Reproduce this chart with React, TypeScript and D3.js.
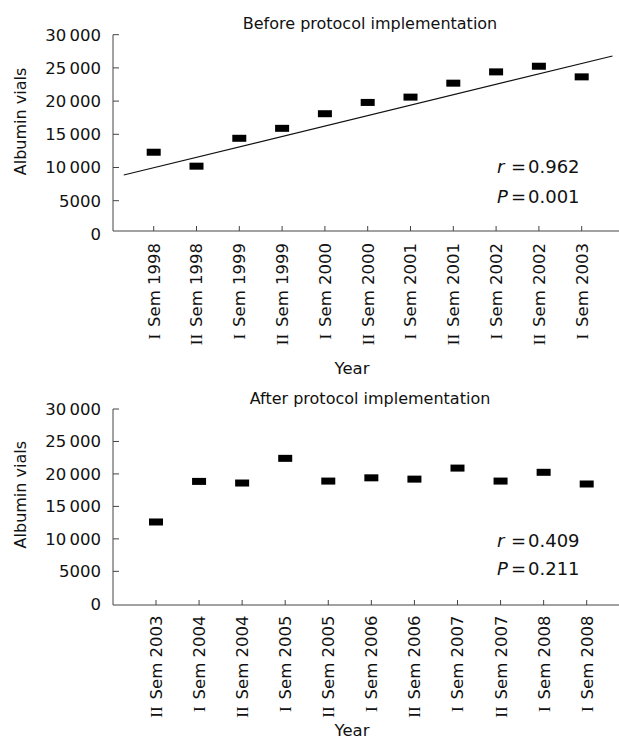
import React from "react";
import * as d3 from "d3";

// Semester labels and albumin vial counts
const beforeLabels = [
  "I Sem 1998", "II Sem 1998", "I Sem 1999", "II Sem 1999", "I Sem 2000", "II Sem 2000",
  "I Sem 2001", "II Sem 2001", "I Sem 2002", "II Sem 2002", "I Sem 2003",
];
const beforeValues = [12300, 10200, 14400, 15900, 18100, 19800, 20600, 22700, 24400, 25250, 23650];

const afterLabels = [
  "II Sem 2003", "I Sem 2004", "II Sem 2004", "I Sem 2005", "II Sem 2005", "I Sem 2006",
  "II Sem 2006", "I Sem 2007", "II Sem 2007", "I Sem 2008", "I Sem 2008",
];
const afterValues = [12600, 18850, 18600, 22400, 18900, 19400, 19200, 20900, 18900, 20250, 18450];

// Fitted trend line (index positions and values at the two ends)
const beforeTrendIndex = [-0.7, 10.72];
const beforeTrendValues = [8870, 26790];

const yTicks = [0, 5000, 10000, 15000, 20000, 25000, 30000];

const beforeStats = ["0.962", "0.001"];
const afterStats = ["0.409", "0.211"];

const SANS = "'DejaVu Sans', Verdana, sans-serif";
const SERIF = "'Liberation Serif', 'DejaVu Serif', serif";
const AXIS = "#444";
const INK = "#111";

const fmtTick = (v: number) => {
  const s = String(v);
  return s.length > 4 ? s.slice(0, -3) + "\u2009" + s.slice(-3) : s;
};

type PanelProps = {
  title: string;
  labels: string[];
  values: number[];
  stats: string[];
  trendIndex?: number[];
  trendValues?: number[];
  top: number; // y pixel of 30000
  zero: number; // y pixel of 0
  axisY: number;
  xFirst: number;
  xLast: number;
  titleY: number;
  labelsTop: number;
  yearY: number;
  statY: number[];
  yLabelY: number;
};

function Stat({ sym, value, y }: { sym: string; value: string; y: number }) {
  return (
    <text y={y} fontFamily={SANS} fontSize={18} fill={INK}>
      <tspan x={497} fontStyle="italic">
        {sym}
      </tspan>
      <tspan x={511}>=</tspan>
      <tspan x={528}>{value}</tspan>
    </text>
  );
}

function Panel(p: PanelProps) {
  const x = d3.scaleLinear().domain([0, p.labels.length - 1]).range([p.xFirst, p.xLast]);
  const y = d3.scaleLinear().domain([0, 30000]).range([p.zero, p.top]);
  const axisX = 113;
  const right = 619;
  const markW = 14;
  const markH = 7;

  let trendPath: string | null = null;
  if (p.trendIndex && p.trendValues) {
    const pts = p.trendIndex.map((t, i) => [t, p.trendValues![i]] as [number, number]);
    trendPath = d3
      .line<[number, number]>()
      .x((d) => x(d[0]))
      .y((d) => y(d[1]))(pts);
  }

  return (
    <g>
      <text x={370} y={p.titleY} textAnchor="middle" fontFamily={SANS} fontSize={16} fill={INK}>
        {p.title}
      </text>

      {/* y axis */}
      <line x1={axisX} x2={axisX} y1={y(30000)} y2={p.axisY} stroke={AXIS} strokeWidth={1} />
      {yTicks.map((t) => (
        <g key={t}>
          {t > 0 && <line x1={axisX} x2={axisX + 6} y1={y(t)} y2={y(t)} stroke={AXIS} strokeWidth={1} />}
          <text x={101} y={y(t)} dy="0.36em" textAnchor="end" fontFamily={SANS} fontSize={16.5} fill={INK}>
            {fmtTick(t)}
          </text>
        </g>
      ))}
      <text
        transform={`translate(26, ${p.yLabelY}) rotate(-90)`}
        textAnchor="middle"
        fontFamily={SANS}
        fontSize={16}
        fill={INK}
      >
        Albumin vials
      </text>

      {/* x axis */}
      <line x1={axisX} x2={right} y1={p.axisY} y2={p.axisY} stroke={AXIS} strokeWidth={1} />
      {p.labels.map((lab, i) => {
        const sp = lab.indexOf(" ");
        const roman = lab.slice(0, sp);
        const rest = lab.slice(sp + 1);
        return (
          <g key={i}>
            <line x1={x(i)} x2={x(i)} y1={p.axisY} y2={p.axisY - 5} stroke={AXIS} strokeWidth={1} />
            <text
              transform={`translate(${x(i)}, ${p.labelsTop}) rotate(-90)`}
              dy="0.36em"
              textAnchor="end"
              fontFamily={SANS}
              fontSize={16.5}
              fill={INK}
            >
              <tspan fontFamily={SERIF} fontSize={17}>
                {roman}
              </tspan>
              <tspan dx={7}>{rest}</tspan>
            </text>
          </g>
        );
      })}
      <text x={352} y={p.yearY} textAnchor="middle" fontFamily={SANS} fontSize={16.5} fill={INK}>
        Year
      </text>

      {trendPath && <path d={trendPath} fill="none" stroke={INK} strokeWidth={1.2} />}

      {p.values.map((v, i) => (
        <rect key={i} x={x(i) - markW / 2} y={y(v) - markH / 2} width={markW} height={markH} fill="#000" />
      ))}

      <Stat sym="r" value={p.stats[0]} y={p.statY[0]} />
      <Stat sym="P" value={p.stats[1]} y={p.statY[1]} />
    </g>
  );
}

export default function App() {
  return (
    <svg
      width={619}
      height={740}
      viewBox="0 0 619 740"
      style={{ position: "absolute", left: 0, top: 0, background: "#fff" }}
    >
      <rect width={619} height={740} fill="#fff" />
      <Panel
        title="Before protocol implementation"
        labels={beforeLabels}
        values={beforeValues}
        stats={beforeStats}
        trendIndex={beforeTrendIndex}
        trendValues={beforeTrendValues}
        top={34.7}
        zero={233.9}
        axisY={231}
        xFirst={153.7}
        xLast={581.7}
        titleY={29}
        labelsTop={243}
        yearY={374}
        statY={[173.3, 203.3]}
        yLabelY={121.5}
      />
      <Panel
        title="After protocol implementation"
        labels={afterLabels}
        values={afterValues}
        stats={afterStats}
        top={409}
        zero={603.8}
        axisY={605}
        xFirst={156}
        xLast={586.7}
        titleY={404}
        labelsTop={615.5}
        yearY={736}
        statY={[546.7, 575]}
        yLabelY={494.7}
      />
    </svg>
  );
}
